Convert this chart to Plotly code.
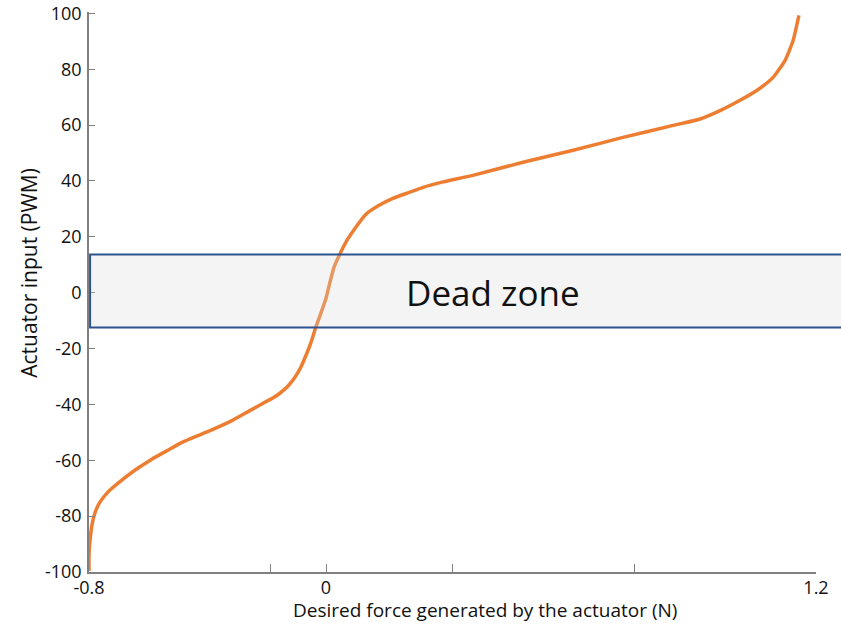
import plotly.graph_objects as go

# Curve data (force in N, PWM input)
force = [-0.800, -0.800, -0.797, -0.792, -0.783, -0.770, -0.748, -0.720, -0.673, -0.627,
         -0.583, -0.544, -0.495, -0.453, -0.407, -0.360, -0.316, -0.294, -0.275, -0.253,
         -0.233, -0.217, -0.203, -0.189, -0.176, -0.162, -0.148, -0.137, -0.126, -0.110,
         -0.090, -0.068, -0.038, -0.002, 0.036, 0.083, 0.119, 0.166, 0.256, 0.394,
         0.532, 0.669, 0.807, 0.881, 0.936, 0.991, 1.038, 1.082, 1.115, 1.137, 1.153]
pwm = [-99.6, -93.9, -88.6, -83.2, -78.6, -75.0, -71.4, -68.2, -63.5, -59.6,
       -56.4, -53.6, -50.9, -48.6, -45.8, -42.4, -39.2, -37.7, -36.0, -33.5,
       -30.2, -26.6, -22.4, -17.7, -12.3, -7.3, -2.0, 3.8, 9.1, 13.8,
       18.8, 23.1, 28.1, 31.3, 33.8, 36.0, 37.7, 39.4, 42.0, 46.7,
       51.0, 55.6, 59.9, 62.2, 65.2, 68.9, 72.5, 77.1, 83.2, 90.3, 99.3]

x_tickvals = [-0.8, -0.3, -0.148, 0.2, 0.7, 1.2]
x_ticktext = ["-0.8", "", "0", "", "", "1.2"]
y_tickvals = [-100, -80, -60, -40, -20, 0, 20, 40, 60, 80, 100]
y_ticktext = ["-100", "-80", "-60", "-40", "-20", "0", "20", "40", "60", "80", "100"]

dead_zone = [-12.5, 13.7]

FONT = "Open Sans"
TXT = "#111111"

fig = go.Figure()
fig.add_trace(go.Scatter(x=force, y=pwm, mode="lines",
                         line=dict(color="#ED7D31", width=3.5, shape="spline", smoothing=0.5),
                         showlegend=False, hoverinfo="skip"))

fig.add_shape(type="rect", xref="paper", yref="y", x0=0.0015, x1=1.04,
              y0=dead_zone[0], y1=dead_zone[1], layer="above",
              fillcolor="rgba(215,215,215,0.28)",
              line=dict(color="#2F528F", width=2))

fig.add_annotation(x=0.556, y=0.0, xref="paper", yref="y", text="Dead zone",
                   showarrow=False, font=dict(family=FONT, size=35, color=TXT),
                   xanchor="center", yanchor="middle")

fig.add_annotation(x=-0.082, y=0.535, xref="paper", yref="paper",
                   text="Actuator input (PWM)", textangle=-90, showarrow=False,
                   font=dict(family=FONT, size=21, color=TXT),
                   xanchor="center", yanchor="middle")
fig.add_annotation(x=0.545, y=-0.0685, xref="paper", yref="paper",
                   text="Desired force generated by the actuator (N)", showarrow=False,
                   font=dict(family=FONT, size=19, color=TXT),
                   xanchor="center", yanchor="middle")

fig.update_xaxes(range=[-0.8, 1.2], tickmode="array", tickvals=x_tickvals, ticktext=x_ticktext,
                 showgrid=False, zeroline=False, showline=True, linecolor="#808080", linewidth=1.5,
                 ticks="inside", ticklen=8, tickcolor="#808080", tickwidth=1.2,
                 ticklabelstandoff=-1, automargin=False,
                 tickfont=dict(family=FONT, size=18, color=TXT))
fig.update_yaxes(range=[-100, 100.5], tickmode="array", tickvals=y_tickvals, ticktext=y_ticktext,
                 showgrid=False, zeroline=False, showline=True, linecolor="#808080", linewidth=1.5,
                 ticks="inside", ticklen=6, tickcolor="#808080", tickwidth=1.2,
                 ticklabelstandoff=2, automargin=False,
                 tickfont=dict(family=FONT, size=18, color=TXT))

fig.update_layout(width=841, height=625, margin=dict(l=89, r=25, t=12, b=53),
                  plot_bgcolor="white", paper_bgcolor="white", showlegend=False)

fig.write_html("out.html")
